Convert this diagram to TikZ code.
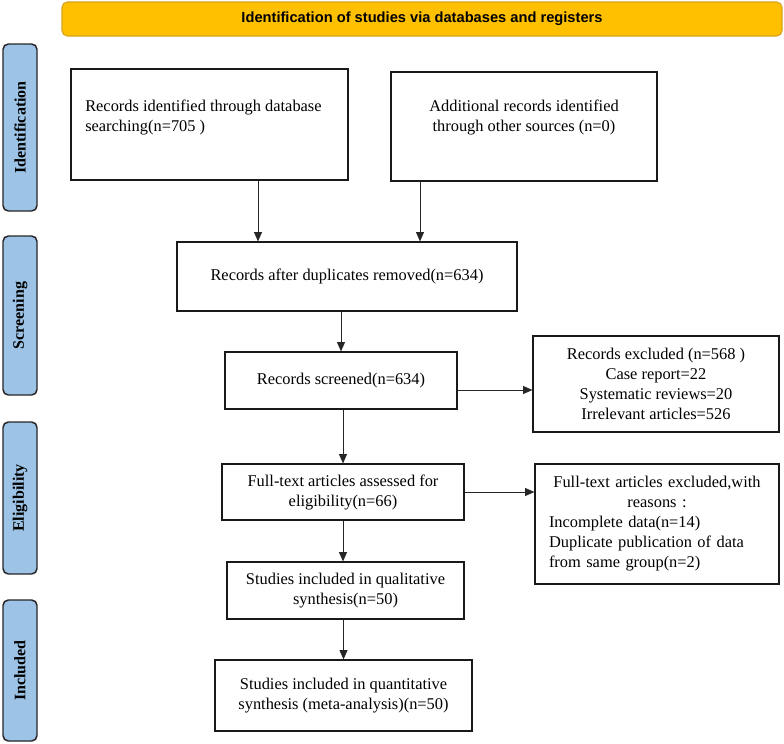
\documentclass[tikz,border=0pt]{standalone}
\usepackage{fontspec}
\setmainfont{Liberation Serif}
\newfontfamily\arialfont{Liberation Sans}
\usepackage{tikz}
\usepackage{xcolor}
\usetikzlibrary{arrows.meta}

\definecolor{amarillo}{HTML}{FFC000}
\definecolor{dorado}{HTML}{D9A21B}
\definecolor{azul}{HTML}{9DC3E6}

\begin{document}
\begin{tikzpicture}[x=0.75pt, y=-0.75pt,
			 caja/.style={draw=black!90, line width=0.9pt, inner sep=0pt},
			 texto/.style={font=\fontsize{12.3}{15}\selectfont, inner sep=0pt},
			 etapa/.style={draw=black!85, line width=1.1pt, fill=azul, rounded corners=4pt, rotate=90, minimum height=25.5pt, inner sep=0pt, font=\fontsize{12}{14}\selectfont\bfseries},
			 flecha/.style={-{Triangle[length=7pt,width=6pt]}, line width=0.6pt, draw=black!85}
  		]
	\useasboundingbox (0,0) rectangle (784,743);

	%Titulo
		\node[draw=dorado, fill=amarillo, line width=0.8pt, rounded corners=4pt, minimum width=540pt, minimum height=25.5pt, font=\arialfont\bfseries\fontsize{11}{13}\selectfont] (titulo) at (422,19) {Identification of studies via databases and registers};

	%Etapas a la izquierda
		\node[etapa, minimum width=125.25pt] (ident) at (20,127.5) {Identification};
		\node[etapa, minimum width=119.25pt] (scrn) at (20,315.5) {Screening};
		\node[etapa, minimum width=114pt] (elig) at (20,498) {Eligibility};
		\node[etapa, minimum width=105.75pt] (incl) at (20,670.5) {Included};

	%Creamos las cajas
		\node[caja, minimum width=207.75pt, minimum height=83.25pt] (src1) at (209.5,124.5) {};
		\node[texto, anchor=west, align=left] (src1txt) at (85,117) {Records identified through database\\searching(n=705 )};
		\node[caja, minimum width=199.5pt, minimum height=81.75pt] (src2) at (524,126.5) {};
		\node[texto, align=center] (src2txt) at (524,117.5) {Additional records identified\\through other sources (n=0)};
		\node[caja, texto, minimum width=255pt, minimum height=51.75pt] (dup) at (347,276.5) {Records after duplicates removed(n=634)};
		\node[caja, texto, minimum width=174pt, minimum height=42.75pt] (scr) at (341,380.5) {Records screened(n=634)};
		\node[caja, texto, align=center, minimum width=184.5pt, minimum height=72pt] (excl) at (656,384) {Records excluded (n=568 )\\Case report=22\\Systematic reviews=20\\Irrelevant articles=526};
		\node[caja, texto, align=center, minimum width=181.5pt, minimum height=42pt] (full) at (343,492) {Full-text articles assessed for\\eligibility(n=66)};
		\node[caja, texto, text width=162pt, minimum width=183pt, minimum height=90pt] (excl2) at (657,524) {\centering Full-text articles excluded,with\\reasons :\par\raggedright Incomplete data(n=14)\\Duplicate publication of data\\from same group(n=2)\par};
		\node[caja, texto, align=center, minimum width=177.75pt, minimum height=42.75pt] (qual) at (345.5,590.5) {Studies included in qualitative\\synthesis(n=50)};
		\node[caja, texto, align=center, minimum width=192.75pt, minimum height=53.25pt] (quant) at (343.5,695.5) {Studies included in quantitative\\synthesis (meta-analysis)(n=50)};

	%Flechas hacia abajo
		\draw[flecha] (src1.south) ++(48.5,0) coordinate (a1) -- (a1 |- dup.north);
		\draw[flecha] (src2.south) ++(-104,0) coordinate (a2) -- (a2 |- dup.north);
		\draw[flecha] (scr.north |- dup.south) -- (scr.north);
		\draw[flecha] (full.north |- scr.south) -- (full.north);
		\draw[flecha] (full.south) -- (full.south |- qual.north);
		\draw[flecha] (quant.north |- qual.south) -- (quant.north);
	%Flechas hacia las exclusiones
		\draw[flecha] (scr.east) ++(0,9.5) coordinate (a3) -- (a3 -| excl.west);
		\draw[flecha] (full.east) -- (full.east -| excl2.west);
	\end{tikzpicture}
\end{document}
